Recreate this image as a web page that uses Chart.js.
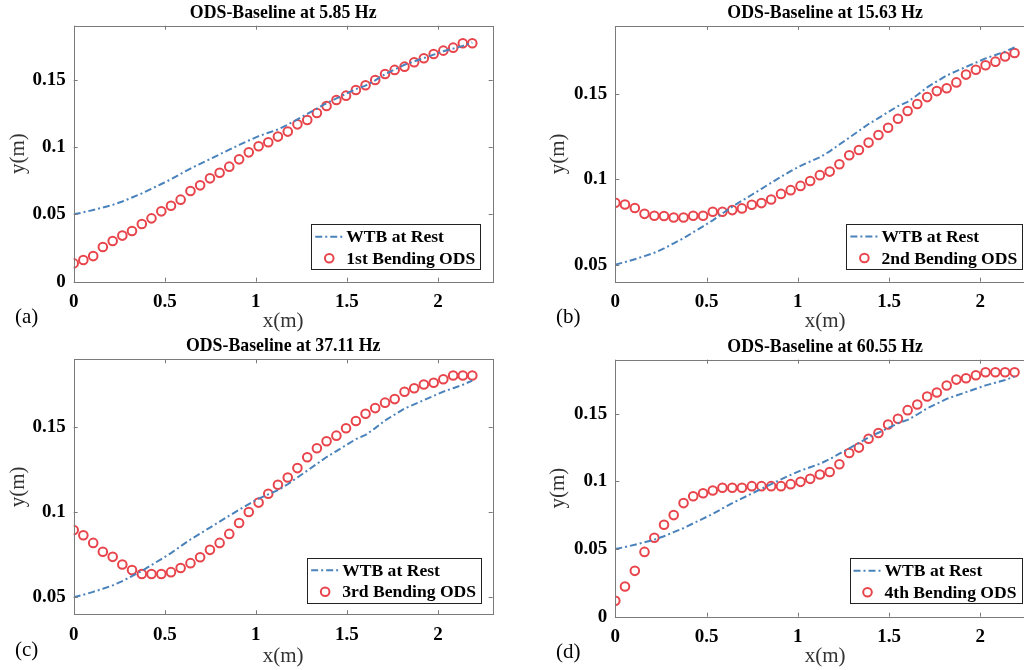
<!DOCTYPE html>
<html lang="en">
<head>
    <meta charset="UTF-8">
    <title>ODS vs baseline</title>
    <script src="https://cdn.jsdelivr.net/npm/chart.js/dist/chart.umd.min.js"></script>
    <style>
        body {
            margin: 0;
            padding: 0;
            width: 1024px;
            height: 670px;
            overflow: hidden;
            background: #fff;
            position: relative;
        }
        .panel {
            position: absolute;
        }
        .panel canvas {
            display: block;
        }
    </style>
</head>
<body>
  <div class="panel" style="left:0;top:0"><canvas id="chartA" width="512" height="335"></canvas></div>
  <div class="panel" style="left:512px;top:0"><canvas id="chartB" width="540" height="335"></canvas></div>
  <div class="panel" style="left:0;top:335px"><canvas id="chartC" width="512" height="335"></canvas></div>
  <div class="panel" style="left:512px;top:335px"><canvas id="chartD" width="540" height="335"></canvas></div>

  <script>
    // blade stations (m)
    const xPos = [0, 0.053, 0.107, 0.160, 0.214, 0.267, 0.320, 0.374, 0.427, 0.481,
      0.534, 0.587, 0.641, 0.694, 0.748, 0.801, 0.854, 0.908, 0.961, 1.015,
      1.068, 1.121, 1.175, 1.228, 1.282, 1.335, 1.388, 1.442, 1.495, 1.549,
      1.602, 1.655, 1.709, 1.762, 1.816, 1.869, 1.922, 1.976, 2.029, 2.083,
      2.136, 2.188];

    // WTB at rest (same in every panel)
    const restLine = [0.0500, 0.0515, 0.0532, 0.0550, 0.0570, 0.0595, 0.0625, 0.0655, 0.0690, 0.0725,
      0.0760, 0.0800, 0.0840, 0.0875, 0.0910, 0.0945, 0.0980, 0.1015, 0.1048, 0.1080,
      0.1105, 0.1130, 0.1165, 0.1205, 0.1245, 0.1285, 0.1325, 0.1360, 0.1395, 0.1430,
      0.1455, 0.1495, 0.1540, 0.1575, 0.1610, 0.1635, 0.1660, 0.1685, 0.1710, 0.1730,
      0.1750, 0.1775];

    const ods1 = [0.0136, 0.0161, 0.0190, 0.0257, 0.0302, 0.0342, 0.0376, 0.0428, 0.0470, 0.0522,
      0.0564, 0.0609, 0.0673, 0.0715, 0.0767, 0.0809, 0.0854, 0.0908, 0.0960, 0.1005,
      0.1035, 0.1077, 0.1114, 0.1168, 0.1200, 0.1252, 0.1304, 0.1349, 0.1381, 0.1423,
      0.1458, 0.1497, 0.1542, 0.1572, 0.1596, 0.1629, 0.1658, 0.1690, 0.1715, 0.1737,
      0.1770, 0.1770];

    const ods2 = [0.0863, 0.0853, 0.0832, 0.0798, 0.0787, 0.0785, 0.0777, 0.0777, 0.0787, 0.0787,
      0.0810, 0.0810, 0.0820, 0.0830, 0.0851, 0.0861, 0.0882, 0.0915, 0.0937, 0.0962,
      0.0991, 0.1025, 0.1046, 0.1089, 0.1142, 0.1173, 0.1216, 0.1261, 0.1303, 0.1356,
      0.1401, 0.1442, 0.1483, 0.1518, 0.1535, 0.1569, 0.1615, 0.1643, 0.1670, 0.1691,
      0.1721, 0.1742];

    const ods3 = [0.0896, 0.0865, 0.0820, 0.0768, 0.0738, 0.0693, 0.0660, 0.0637, 0.0637, 0.0637,
      0.0648, 0.0672, 0.0701, 0.0736, 0.0779, 0.0820, 0.0873, 0.0937, 0.1002, 0.1057,
      0.1109, 0.1162, 0.1205, 0.1260, 0.1324, 0.1377, 0.1418, 0.1451, 0.1494, 0.1537,
      0.1580, 0.1613, 0.1645, 0.1666, 0.1709, 0.1730, 0.1752, 0.1762, 0.1783, 0.1805,
      0.1805, 0.1805];

    const ods4 = [0.0118, 0.0223, 0.0339, 0.0479, 0.0584, 0.0680, 0.0751, 0.0840, 0.0891, 0.0913,
      0.0933, 0.0953, 0.0953, 0.0953, 0.0965, 0.0965, 0.0965, 0.0965, 0.0980, 0.0997,
      0.1019, 0.1051, 0.1070, 0.1127, 0.1210, 0.1250, 0.1316, 0.1358, 0.1421, 0.1463,
      0.1527, 0.1569, 0.1628, 0.1657, 0.1709, 0.1753, 0.1763, 0.1785, 0.1807, 0.1807,
      0.1807, 0.1807];

    const xTicks = [0, 0.5, 1, 1.5, 2];
    const yTicksLow = [0, 0.05, 0.1, 0.15];
    const yTicksHigh = [0.05, 0.1, 0.15];

    const titles = ['ODS-Baseline at 5.85 Hz', 'ODS-Baseline at 15.63 Hz', 'ODS-Baseline at 37.11 Hz', 'ODS-Baseline at 60.55 Hz'];
    const odsLabels = ['1st Bending ODS', '2nd Bending ODS', '3rd Bending ODS', '4th Bending ODS'];
    const tags = ['(a)', '(b)', '(c)', '(d)'];

    const SERIF = '"Liberation Serif", "Times New Roman", serif';
    const BLUE = '#4a82bb';
    const RED = '#e8444b';
    const FRAME = '#7a7a7a';

    // MATLAB-like box, inward ticks, title, tag and legend
    const matlabFrame = {
      id: 'matlabFrame',
      afterDatasetsDraw(chart) {
        const { ctx, chartArea: a, scales } = chart;
        ctx.save();
        ctx.strokeStyle = FRAME;
        ctx.lineWidth = 1;
        ctx.strokeRect(Math.round(a.left) + 0.5, Math.round(a.top) + 0.5,
          Math.round(a.right - a.left), Math.round(a.bottom - a.top));
        ctx.beginPath();
        scales.x.ticks.forEach(t => {
          const px = Math.round(scales.x.getPixelForValue(t.value)) + 0.5;
          ctx.moveTo(px, a.bottom); ctx.lineTo(px, a.bottom - 4);
          ctx.moveTo(px, a.top); ctx.lineTo(px, a.top + 4);
        });
        scales.y.ticks.forEach(t => {
          const py = Math.round(scales.y.getPixelForValue(t.value)) + 0.5;
          ctx.moveTo(a.left, py); ctx.lineTo(a.left + 4, py);
          ctx.moveTo(a.right, py); ctx.lineTo(a.right - 4, py);
        });
        ctx.stroke();
        ctx.restore();
      },
      afterDraw(chart, args, opts) {
        const { ctx, chartArea: a } = chart;
        ctx.save();

        // title
        ctx.fillStyle = '#000';
        ctx.font = 'bold 17.8px ' + SERIF;
        ctx.textAlign = 'center';
        ctx.textBaseline = 'middle';
        ctx.fillText(opts.title, (a.left + a.right) / 2, a.top - 12.5);

        // panel tag
        ctx.font = '21px ' + SERIF;
        ctx.fillText(opts.tag, a.left - 47, a.bottom + 36);

        // legend, bottom right inside the axes
        const ds = chart.data.datasets;
        ctx.font = 'bold 17.6px ' + SERIF;
        const textW = Math.max(...ds.map(d => ctx.measureText(d.label).width));
        const w = 35 + textW + 5;
        const h = 45;
        const right = a.right - opts.legendGap;
        const bottom = a.bottom - opts.legendGap;
        const left = right - w;
        const top = bottom - h;
        ctx.fillStyle = '#fff';
        ctx.fillRect(left, top, w, h);
        ctx.strokeStyle = '#222';
        ctx.lineWidth = 1;
        ctx.strokeRect(Math.round(left) + 0.5, Math.round(top) + 0.5, Math.round(w), Math.round(h));

        const rows = [top + 12.5, top + 34];
        // line sample
        ctx.strokeStyle = ds[0].borderColor;
        ctx.lineWidth = ds[0].borderWidth;
        ctx.setLineDash(ds[0].borderDash);
        ctx.beginPath();
        ctx.moveTo(left + 4, rows[0]);
        ctx.lineTo(left + 31, rows[0]);
        ctx.stroke();
        ctx.setLineDash([]);
        // marker sample
        ctx.strokeStyle = ds[1].pointBorderColor;
        ctx.lineWidth = ds[1].pointBorderWidth;
        ctx.beginPath();
        ctx.arc(left + 18, rows[1], ds[1].pointRadius, 0, Math.PI * 2);
        ctx.stroke();

        ctx.fillStyle = '#000';
        ctx.textAlign = 'left';
        ds.forEach((d, i) => ctx.fillText(d.label, left + 35, rows[i] + 1));
        ctx.restore();
      }
    };

    function makePanel(id, i, ods, yMin, yTicks, box) {
      const pts = arr => xPos.map((x, k) => ({ x: x, y: arr[k] }));
      return new Chart(document.getElementById(id), {
        type: 'line',
        data: {
          datasets: [{
            label: 'WTB at Rest',
            data: pts(restLine),
            borderColor: BLUE,
            borderWidth: 2,
            borderDash: [7, 3, 2, 3],
            pointRadius: 0,
            fill: false,
            tension: 0
          }, {
            label: odsLabels[i],
            data: pts(ods),
            showLine: false,
            pointRadius: 4.3,
            pointBorderWidth: 2,
            pointBorderColor: RED,
            pointBackgroundColor: 'rgba(0,0,0,0)'
          }]
        },
        options: {
          responsive: false,
          animation: false,
          devicePixelRatio: 1,
          layout: { padding: { top: box.top, right: box.right, left: 0, bottom: 0 } },
          plugins: {
            legend: { display: false },
            tooltip: { enabled: false },
            matlabFrame: { title: titles[i], tag: tags[i], legendGap: box.gap }
          },
          scales: {
            x: {
              type: 'linear',
              min: 0,
              max: 2.3,
              afterBuildTicks: s => { s.ticks = xTicks.map(v => ({ value: v })); },
              afterFit: s => { s.height = box.xh; },
              grid: { display: false, drawTicks: false },
              border: { display: false },
              ticks: {
                padding: 9,
                color: '#000',
                font: { family: SERIF, size: 19, weight: 'bold' },
                callback: v => String(v)
              },
              title: {
                display: true,
                text: 'x(m)',
                color: '#333',
                font: { family: SERIF, size: 21 },
                padding: { top: 0, bottom: 0.5 }
              }
            },
            y: {
              type: 'linear',
              min: yMin,
              max: 0.19,
              afterBuildTicks: s => { s.ticks = yTicks.map(v => ({ value: v })); },
              afterFit: s => { s.width = box.yw; },
              grid: { display: false, drawTicks: false },
              border: { display: false },
              ticks: {
                padding: 8,
                color: '#000',
                font: { family: SERIF, size: 19, weight: 'bold' },
                callback: v => String(v)
              },
              title: {
                display: true,
                text: 'y(m)',
                color: '#333',
                font: { family: SERIF, size: 21 },
                padding: { top: box.yt, bottom: 0 }
              }
            }
          }
        },
        plugins: [matlabFrame]
      });
    }

    makePanel('chartA', 0, ods1, 0, yTicksLow, { top: 25.7, right: 19.3, yw: 73.7, xh: 53.3, yt: 5.7, gap: 12.4 });
    makePanel('chartB', 1, ods2, 0.04, yTicksHigh, { top: 26, right: 17, yw: 103.3, xh: 53.3, yt: 34, gap: 12.7 });
    makePanel('chartC', 2, ods3, 0.04, yTicksHigh, { top: 24.3, right: 19.3, yw: 73.7, xh: 55.7, yt: 5.7, gap: 11.6 });
    makePanel('chartD', 3, ods4, 0, yTicksLow, { top: 24.7, right: 17, yw: 103.3, xh: 53.3, yt: 34, gap: 13.5 });
  </script>
</body>
</html>
